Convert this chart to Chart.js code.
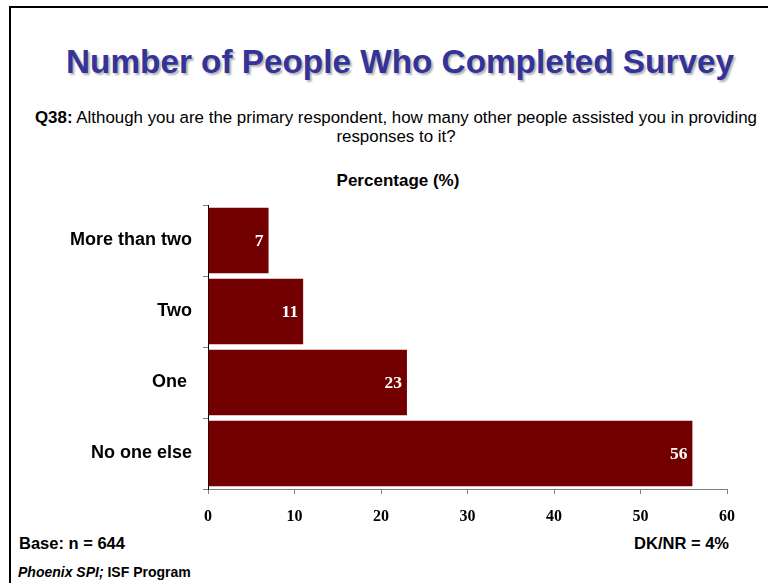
<!DOCTYPE html>
<html lang="en">
<head>
<meta charset="UTF-8">
<title>Number of People Who Completed Survey</title>
<script src="https://cdn.jsdelivr.net/npm/chart.js"></script>
<style>
  * { margin: 0; padding: 0; box-sizing: border-box; }
  body { width: 768px; height: 583px; overflow: hidden; background: #fff; position: relative; font-family: 'Liberation Sans', Arial, sans-serif; color: #000; }
  .frame { position: absolute; left: 9px; top: 6px; width: 800px; height: 620px; border: 2px solid #000; }
  .title { position: absolute; left: 30px; width: 740px; top: 45px; text-align: center; font-size: 33.3px; line-height: 1; font-weight: bold; color: #333399; text-shadow: 2px 2px 2px rgba(0,0,0,0.3); white-space: nowrap; }
  .question { position: absolute; left: 18px; width: 756px; top: 108px; text-align: center; font-size: 16.9px; line-height: 19px; }
  .question b { font-weight: bold; }
  .axis-title { position: absolute; left: 28px; width: 740px; top: 172px; text-align: center; font-size: 17px; line-height: 1; font-weight: bold; }
  .base { position: absolute; left: 19px; top: 535px; font-size: 16.5px; line-height: 1; font-weight: bold; }
  .dknr { position: absolute; right: 39px; top: 535px; font-size: 16.5px; line-height: 1; font-weight: bold; }
  .source { position: absolute; left: 18px; top: 565px; font-size: 14px; line-height: 1; font-weight: bold; }
  #chart { position: absolute; left: 0; top: 195px; }
</style>
</head>
<body>
<div class="frame"></div>
<div class="title">Number of People Who Completed Survey</div>
<div class="question"><b>Q38:</b> Although you are the primary respondent, how many other people assisted you in providing<br>responses to it?</div>
<div class="axis-title">Percentage (%)</div>
<canvas id="chart" width="768" height="335"></canvas>
<div class="base">Base: n = 644</div>
<div class="dknr">DK/NR = 4%</div>
<div class="source"><i>Phoenix SPI;</i> ISF Program</div>

<script>
  const categories = ['More than two', 'Two', 'One ', 'No one else'];
  const percentages = [7, 11, 23, 56];
  const xTicks = [0, 10, 20, 30, 40, 50, 60];

  // white value labels drawn inside the end of each bar
  const barValueLabels = {
    id: 'barValueLabels',
    afterDatasetsDraw(chart) {
      const ctx = chart.ctx;
      const meta = chart.getDatasetMeta(0);
      ctx.save();
      ctx.fillStyle = '#ffffff';
      ctx.font = 'bold 17.5px "Liberation Serif", "Times New Roman", serif';
      ctx.textAlign = 'right';
      ctx.textBaseline = 'middle';
      meta.data.forEach((bar, i) => {
        ctx.fillText(String(percentages[i]), bar.x - 5, bar.y + 1);
      });
      ctx.restore();
    }
  };

  new Chart(document.getElementById('chart').getContext('2d'), {
    type: 'bar',
    data: {
      labels: categories,
      datasets: [{
        data: percentages,
        backgroundColor: '#730000',
        borderWidth: 0,
        barPercentage: 0.92,
        categoryPercentage: 1
      }]
    },
    options: {
      indexAxis: 'y',
      responsive: false,
      animation: false,
      layout: { padding: { top: 10, left: 8, right: 41, bottom: 0 } },
      plugins: {
        legend: { display: false },
        tooltip: { enabled: false },
        title: { display: false }
      },
      scales: {
        x: {
          min: xTicks[0],
          max: xTicks[xTicks.length - 1],
          afterBuildTicks: s => { s.ticks = xTicks.map(v => ({ value: v })); },
          afterFit: s => { s.height = 41; s.paddingLeft = 0; s.paddingRight = 0; },
          grid: { drawOnChartArea: false, tickLength: 5, color: '#808080' },
          border: { color: '#808080', width: 1 },
          ticks: {
            color: '#000',
            padding: 13,
            font: { family: '"Liberation Serif", "Times New Roman", serif', size: 16, weight: 'bold' }
          }
        },
        y: {
          afterFit: s => { s.width = 200; s.paddingTop = 0; s.paddingBottom = 0; },
          grid: { drawOnChartArea: false, tickLength: 5, color: '#808080', offset: true },
          border: { color: '#000', width: 1 },
          ticks: {
            color: '#000',
            padding: 11,
            font: { family: '"Liberation Sans", Arial, sans-serif', size: 18, weight: 'bold' }
          }
        }
      }
    },
    plugins: [barValueLabels]
  });
</script>
</body>
</html>
